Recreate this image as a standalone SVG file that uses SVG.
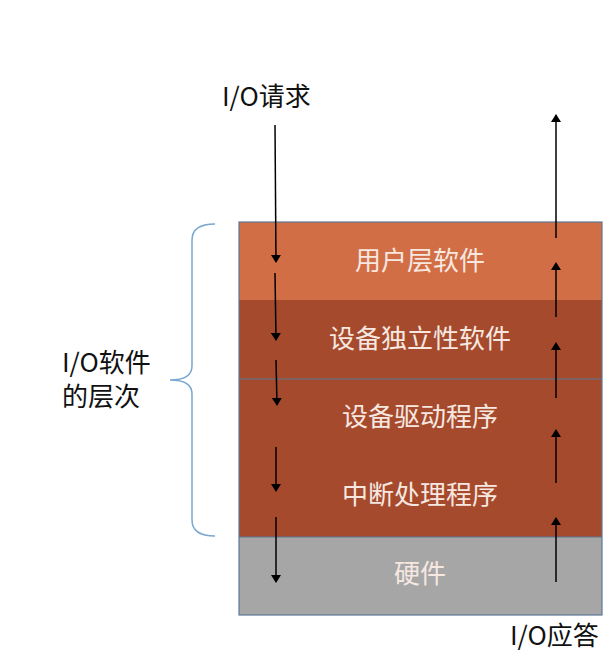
<svg xmlns="http://www.w3.org/2000/svg" width="616" height="654" viewBox="0 0 616 654">
<style>
.lt{fill:#F6E8E0;font-family:"Noto Sans CJK SC",sans-serif;font-size:26px;text-anchor:middle}
.bt{fill:#111;font-family:"Noto Sans CJK SC",sans-serif;font-size:26px}
.ar{stroke:#000;stroke-width:1.5;fill:none;marker-end:url(#ah)}
</style>
<defs><marker id="ah" markerWidth="8" markerHeight="10" refX="7" refY="5" orient="auto" markerUnits="userSpaceOnUse"><path d="M0,0 L8,5 L0,10 Z" fill="#000"/></marker></defs>
<rect width="616" height="654" fill="#fff"/>
<g id="layers">
<rect x="239" y="222" width="363" height="78" fill="#D26E46"/>
<rect x="239" y="300" width="363" height="237" fill="#A64A2D"/>
<rect x="239" y="537" width="363" height="78" fill="#A6A6A6"/>
<rect x="239" y="222" width="363" height="393" fill="none" stroke="#5B7896" stroke-width="1.2"/>
<line x1="239" y1="379" x2="602" y2="379" stroke="#5B7896" stroke-width="1.2"/>
<line x1="239" y1="537" x2="602" y2="537" stroke="#5B7896" stroke-width="1.2"/>
</g>
<g id="n1"><text class="lt" x="420" y="270">用户层软件</text></g>
<g id="n2"><text class="lt" x="420" y="348">设备独立性软件</text></g>
<g id="n3"><text class="lt" x="420" y="426">设备驱动程序</text></g>
<g id="n4"><text class="lt" x="420" y="504">中断处理程序</text></g>
<g id="n5"><text class="lt" x="420" y="583">硬件</text></g>
<g id="labels">
<text class="bt" x="222" y="106">I/O请求</text>
<text class="bt" x="510" y="645" font-size="30">I/O应答</text>
<text class="bt" x="62" y="372">I/O软件</text>
<text class="bt" x="62" y="406">的层次</text>
<path d="M215,224 Q192,224 192,240 L192,366 Q192,380 170,380 Q192,380 192,394 L192,520 Q192,536 215,536" fill="none" stroke="#7AA7CF" stroke-width="1.5"/>
</g>
<g id="connectors">
<line class="ar" x1="275" y1="125" x2="276" y2="262"/>
<line class="ar" x1="275" y1="273" x2="276" y2="340"/>
<line class="ar" x1="276" y1="360" x2="277" y2="405"/>
<line class="ar" x1="276" y1="447" x2="276" y2="491"/>
<line class="ar" x1="276" y1="517" x2="276" y2="582"/>
<line class="ar" x1="556" y1="238" x2="556" y2="115"/>
<line class="ar" x1="556" y1="317" x2="556" y2="263"/>
<line class="ar" x1="556" y1="398" x2="556" y2="343"/>
<line class="ar" x1="556" y1="483" x2="556" y2="430"/>
<line class="ar" x1="556" y1="582" x2="556" y2="518"/>
</g>
</svg>
